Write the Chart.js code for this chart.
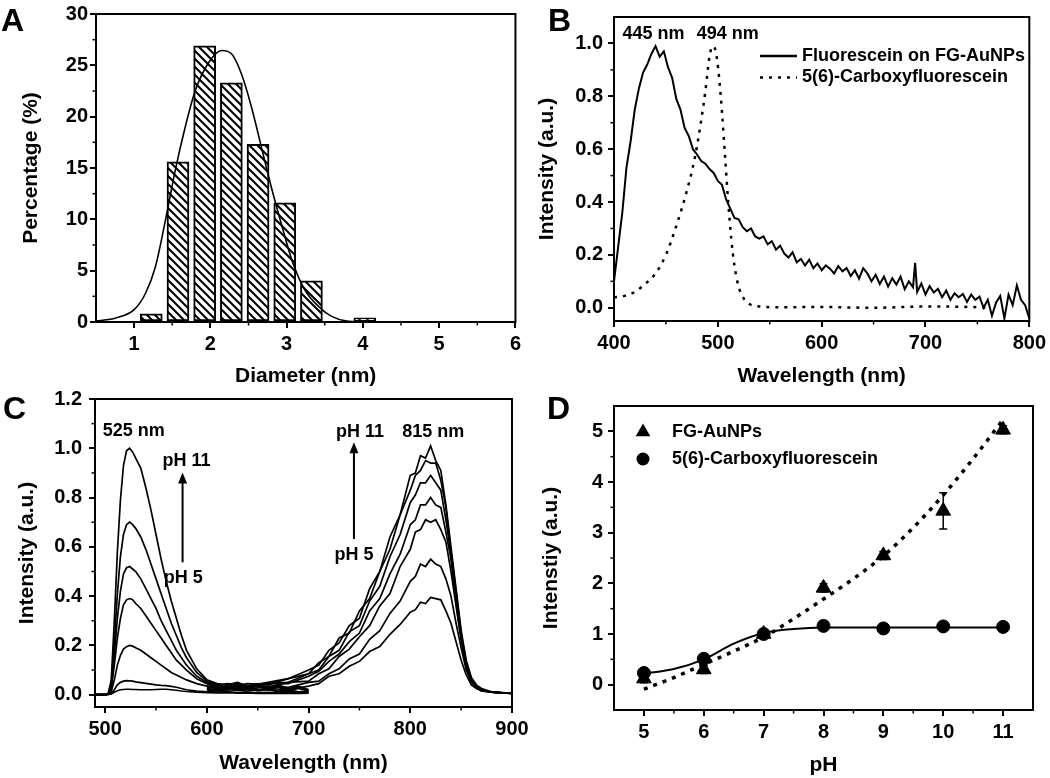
<!DOCTYPE html>
<html><head><meta charset="utf-8">
<script src="https://cdn.jsdelivr.net/npm/chart.js@4/dist/chart.umd.min.js"></script>
<style>
html,body{margin:0;padding:0;background:#fff;}
#wrap{position:relative;width:1050px;height:778px;overflow:hidden;background:#fff;}
canvas{position:absolute;}
.lbl{position:absolute;font:bold 32px "Liberation Sans",Arial,sans-serif;color:#000;line-height:1;}
</style></head><body>
<div id="wrap">
<canvas id="cA" width="525" height="389" style="left:0;top:0"></canvas>
<canvas id="cB" width="525" height="389" style="left:525px;top:0"></canvas>
<canvas id="cC" width="545" height="398" style="left:0;top:380px"></canvas>
<canvas id="cD" width="525" height="389" style="left:525px;top:389px"></canvas>
<div class="lbl" style="left:1px;top:4px">A</div>
<div class="lbl" style="left:548px;top:4px">B</div>
<div class="lbl" style="left:3px;top:392px">C</div>
<div class="lbl" style="left:547px;top:392px">D</div>
</div>
<script>
// ---------- DATA ----------
// Panel A: size histogram
const aBinCenters = [1.225,1.575,1.925,2.275,2.625,2.975,3.325,4.025];
const aPercent    = [0.8,15.6,26.9,23.3,17.3,11.6,4.0,0.4];
const aFitX = [0.5,0.76,1.0,1.15,1.28,1.41,1.54,1.67,1.8,1.98,2.15,2.28,2.41,2.54,2.67,2.8,2.94,3.07,3.24,3.42,3.59,3.81,4.0];
const aFitY = [0.1,0.39,1.2,2.8,5.4,9.9,14.8,19.0,22.5,25.3,26.45,26.1,24.1,20.9,17.0,13.1,9.3,6.0,3.1,1.5,0.55,0.06,0.0];
const aXTicks = [1,2,3,4,5,6], aXLabels = ['1','2','3','4','5','6'];
const aYTicks = [0,5,10,15,20,25,30], aYLabels = ['0','5','10','15','20','25','30'];

// Panel B: emission spectra
const bSolidX = [400,404,408,412,416,420,424,428,432,436,440,444,448,452,456,460,464,468,472,476,480,484,488,492,496,500,504,508,512,516,520,524,528,532,536,540,544,548,552,556,560,564,568,572,576,580,584,588,592,596,600,604,608,612,616,620,624,628,632,636,640,644,648,652,656,660,664,668,672,676,680,684,688,690,692,696,700,704,708,712,716,720,724,728,732,736,740,744,748,752,756,760,764,768,772,776,780,784,788,792,796,800];
const bSolidY = [0.10,0.23,0.36,0.53,0.63,0.75,0.83,0.89,0.92,0.96,0.99,0.95,0.97,0.91,0.87,0.79,0.75,0.68,0.65,0.60,0.58,0.555,0.545,0.525,0.51,0.48,0.465,0.41,0.375,0.34,0.335,0.305,0.29,0.30,0.27,0.262,0.27,0.24,0.252,0.22,0.235,0.205,0.19,0.21,0.172,0.185,0.16,0.182,0.15,0.168,0.142,0.16,0.148,0.13,0.158,0.138,0.15,0.12,0.142,0.11,0.15,0.13,0.10,0.125,0.09,0.118,0.08,0.112,0.088,0.118,0.07,0.10,0.078,0.17,0.06,0.092,0.05,0.082,0.058,0.072,0.04,0.065,0.03,0.055,0.04,0.052,0.022,0.05,0.03,0.042,0.0,0.03,-0.03,0.02,0.045,-0.04,0.05,0.01,0.085,0.03,0.01,-0.04];
const bDotX = [400,410,420,430,440,450,460,470,478,484,488,492,495,498,501,504,507,510,513,516,520,525,530,540,560,600,650,700,750,758];
const bDotY = [0.04,0.045,0.06,0.09,0.13,0.20,0.31,0.44,0.57,0.71,0.82,0.95,0.99,0.97,0.88,0.74,0.57,0.40,0.26,0.16,0.08,0.035,0.015,0.005,0.002,0.003,0.0,0.005,0.002,0.0];
const bNames = ['Fluorescein on FG-AuNPs','5(6)-Carboxyfluorescein'];
const bXTicks = [400,500,600,700,800], bXLabels = ['400','500','600','700','800'];
const bYTicks = [0,0.2,0.4,0.6,0.8,1.0], bYLabels = ['0.0','0.2','0.4','0.6','0.8','1.0'];

// Panel C: pH-dependent spectra (pH 11 -> pH 5)
const cLeftX = [490,500,503,506,509,512,515,518,521,524,527,530,535,540,545,550,555,560,565,570,575,580,590,600,610,620,630,640,650,660,670,680,690,700];
const cLeft = [
 [0,0,0.005,0.06,0.30,0.58,0.79,0.93,0.99,1.0,0.985,0.96,0.92,0.84,0.75,0.65,0.55,0.46,0.38,0.31,0.24,0.18,0.105,0.06,0.045,0.04,0.05,0.035,0.045,0.03,0.04,0.025,0.035,0.02],
 [0,0,0.004,0.045,0.21,0.41,0.56,0.65,0.69,0.70,0.69,0.675,0.64,0.59,0.53,0.47,0.41,0.35,0.29,0.24,0.19,0.15,0.09,0.055,0.04,0.03,0.045,0.03,0.04,0.025,0.035,0.02,0.03,0.02],
 [0,0,0.003,0.035,0.16,0.31,0.42,0.49,0.515,0.52,0.51,0.50,0.47,0.43,0.39,0.35,0.30,0.26,0.22,0.18,0.15,0.12,0.075,0.05,0.035,0.03,0.04,0.025,0.035,0.02,0.03,0.015,0.025,0.015],
 [0,0,0.002,0.025,0.12,0.23,0.31,0.365,0.385,0.39,0.385,0.37,0.35,0.32,0.29,0.26,0.23,0.20,0.17,0.14,0.12,0.10,0.065,0.045,0.03,0.035,0.025,0.03,0.02,0.025,0.015,0.02,0.012,0.015],
 [0,0,0.002,0.012,0.06,0.12,0.16,0.185,0.195,0.20,0.197,0.19,0.18,0.165,0.15,0.135,0.12,0.105,0.09,0.08,0.07,0.06,0.045,0.035,0.025,0.03,0.02,0.025,0.015,0.02,0.012,0.015,0.01,0.012],
 [0,0,0.001,0.005,0.02,0.04,0.05,0.055,0.057,0.056,0.055,0.052,0.049,0.046,0.043,0.04,0.038,0.037,0.034,0.03,0.025,0.02,0.015,0.012,0.01,0.012,0.008,0.01,0.007,0.009,0.006,0.008,0.006,0.007],
 [0,0,0.001,0.003,0.01,0.016,0.02,0.021,0.022,0.022,0.021,0.021,0.02,0.02,0.02,0.021,0.022,0.022,0.02,0.018,0.015,0.013,0.01,0.008,0.007,0.008,0.006,0.007,0.005,0.006,0.005,0.006,0.005,0.006]
];
const cRightX = [600,620,640,660,680,700,710,720,730,740,750,760,770,780,790,800,805,810,815,820,825,830,835,840,845,850,855,860,865,870,880,890,900];
const cRight = [
 [0.03,0.045,0.035,0.05,0.065,0.10,0.12,0.18,0.21,0.28,0.31,0.43,0.50,0.64,0.73,0.89,0.90,0.97,0.96,1.01,0.95,0.91,0.77,0.60,0.43,0.26,0.14,0.07,0.04,0.025,0.012,0.008,0.006],
 [0.035,0.03,0.045,0.04,0.065,0.085,0.13,0.155,0.23,0.25,0.34,0.39,0.50,0.59,0.73,0.83,0.89,0.91,0.95,0.94,0.94,0.87,0.76,0.58,0.42,0.25,0.13,0.065,0.035,0.02,0.01,0.008,0.005],
 [0.025,0.035,0.035,0.045,0.05,0.085,0.10,0.155,0.18,0.255,0.28,0.38,0.44,0.56,0.65,0.78,0.81,0.86,0.86,0.89,0.86,0.83,0.71,0.57,0.39,0.24,0.12,0.065,0.035,0.02,0.01,0.007,0.005],
 [0.02,0.03,0.03,0.045,0.045,0.075,0.095,0.135,0.165,0.215,0.25,0.34,0.39,0.49,0.57,0.69,0.71,0.77,0.77,0.80,0.77,0.76,0.66,0.55,0.37,0.23,0.115,0.06,0.03,0.02,0.01,0.007,0.005],
 [0.02,0.02,0.035,0.03,0.05,0.055,0.085,0.105,0.155,0.185,0.235,0.28,0.36,0.41,0.52,0.59,0.66,0.67,0.71,0.70,0.71,0.67,0.62,0.50,0.36,0.22,0.115,0.055,0.03,0.02,0.01,0.007,0.005],
 [0.015,0.025,0.02,0.035,0.03,0.05,0.055,0.085,0.105,0.145,0.165,0.225,0.26,0.33,0.38,0.46,0.48,0.53,0.52,0.55,0.53,0.52,0.47,0.40,0.29,0.19,0.10,0.05,0.03,0.015,0.01,0.007,0.005],
 [0.01,0.02,0.015,0.025,0.02,0.035,0.045,0.075,0.085,0.115,0.135,0.175,0.195,0.245,0.285,0.335,0.345,0.375,0.37,0.395,0.39,0.385,0.34,0.29,0.215,0.14,0.08,0.04,0.025,0.015,0.01,0.007,0.005]
];
const cXTicks = [500,600,700,800,900], cXLabels = ['500','600','700','800','900'];
const cYTicks = [0,0.2,0.4,0.6,0.8,1.0,1.2], cYLabels = ['0.0','0.2','0.4','0.6','0.8','1.0','1.2'];

// Panel D: intensity vs pH
const dPH    = [5,6,7,8,9,10,11];
const dFG    = [0.12,0.30,1.00,1.91,2.55,3.43,5.03];
const dFGErr = [0.08,0.08,0.05,0.08,0.08,0.36,0.08];
const dCF    = [0.23,0.51,1.00,1.16,1.11,1.15,1.14];
const dFitX  = [5,5.5,6,6.5,7,7.5,8,8.5,9,9.5,10,10.5,11];
const dFitFG = [-0.09,0.14,0.40,0.66,0.94,1.30,1.69,2.09,2.54,3.10,3.74,4.46,5.23];
const dFitCF = [0.22,0.31,0.50,0.81,1.02,1.10,1.13,1.13,1.13,1.13,1.13,1.13,1.13];
const dNames = ['FG-AuNPs','5(6)-Carboxyfluorescein'];
const dXTicks = [5,6,7,8,9,10,11], dXLabels = ['5','6','7','8','9','10','11'];
const dYTicks = [0,1,2,3,4,5], dYLabels = ['0','1','2','3','4','5'];

// ---------- HELPERS ----------
const F = '"Liberation Sans", Arial, sans-serif';
Chart.defaults.font.family = F;
Chart.defaults.font.weight = 'bold';
Chart.defaults.color = '#000';
const pts = (xs, ys) => xs.map((v, i) => ({x: v, y: ys[i]}));

function axis(o) {
  return {
    type: 'linear', position: o.pos, min: o.min, max: o.max, offset: false,
    afterBuildTicks(s) { s.ticks = o.vals.map(v => ({value: v})); },
    afterFit(s) { if (o.pos === 'left') s.width = o.size; else s.height = o.size; },
    ticks: { font: {size: 20, weight: 'bold', family: F}, color: '#000', padding: o.tickPad,
      maxRotation: 0, autoSkip: false,
      callback: (v) => { const i = o.vals.indexOf(v); return i >= 0 ? o.labels[i] : ''; } },
    grid: { display: true, drawOnChartArea: false, drawTicks: true, tickLength: 6, color: '#000', lineWidth: 2, offset: false },
    border: { display: false },
    title: { display: true, text: o.title, font: {size: 21, weight: 'bold', family: F}, color: '#000', padding: o.titlePad }
  };
}

const deco = {
  id: 'deco',
  beforeDatasetsDraw(chart, args, o) {
    if (!o.err) return;
    const {ctx, scales: {x, y}} = chart;
    ctx.save(); ctx.strokeStyle = '#000'; ctx.lineWidth = 1.5;
    o.err.xs.forEach((xv, i) => {
      const px = x.getPixelForValue(xv);
      const p1 = y.getPixelForValue(o.err.ys[i] + o.err.es[i]);
      const p2 = y.getPixelForValue(o.err.ys[i] - o.err.es[i]);
      ctx.beginPath(); ctx.moveTo(px, p1); ctx.lineTo(px, p2);
      ctx.moveTo(px - 4, p1); ctx.lineTo(px + 4, p1);
      ctx.moveTo(px - 4, p2); ctx.lineTo(px + 4, p2); ctx.stroke();
    });
    ctx.restore();
  },
  afterDraw(chart, args, o) {
    const {ctx, chartArea: a, scales: {x, y}} = chart;
    ctx.save();
    ctx.strokeStyle = '#000'; ctx.fillStyle = '#000';
    ctx.lineWidth = 2;
    ctx.strokeRect(a.left, a.top, a.right - a.left, a.bottom - a.top);
    ctx.lineWidth = 1.5;
    (o.minorX || []).forEach(v => { const p = x.getPixelForValue(v); ctx.beginPath(); ctx.moveTo(p, a.bottom); ctx.lineTo(p, a.bottom + 3.5); ctx.stroke(); });
    (o.minorY || []).forEach(v => { const p = y.getPixelForValue(v); ctx.beginPath(); ctx.moveTo(a.left, p); ctx.lineTo(a.left - 3.5, p); ctx.stroke(); });
    ctx.font = 'bold 18px ' + F; ctx.textBaseline = 'middle'; ctx.textAlign = 'center';
    (o.texts || []).forEach(t => ctx.fillText(t.t, x.getPixelForValue(t.x), y.getPixelForValue(t.y)));
    (o.arrows || []).forEach(ar => {
      const px = x.getPixelForValue(ar.x), p0 = y.getPixelForValue(ar.y0), p1 = y.getPixelForValue(ar.y1);
      ctx.lineWidth = 2; ctx.beginPath(); ctx.moveTo(px, p0); ctx.lineTo(px, p1 + 8); ctx.stroke();
      ctx.beginPath(); ctx.moveTo(px, p1); ctx.lineTo(px - 4.5, p1 + 11); ctx.lineTo(px + 4.5, p1 + 11); ctx.closePath(); ctx.fill();
    });
    if (o.legend) {
      const L = o.legend; ctx.textAlign = 'left';
      L.rows.forEach((r, i) => {
        const yy = a.top + L.dy + i * L.gap;
        if (r.sym === 'line' || r.sym === 'dash') {
          ctx.beginPath(); ctx.setLineDash(r.sym === 'dash' ? [3, 6] : []); ctx.lineWidth = 2.5;
          ctx.moveTo(a.left + L.sx0, yy); ctx.lineTo(a.left + L.sx1, yy); ctx.stroke(); ctx.setLineDash([]);
        } else if (r.sym === 'triangle') {
          const cx = a.left + L.sx0, rr = 8.5;
          ctx.beginPath(); ctx.moveTo(cx, yy - rr); ctx.lineTo(cx + rr * 0.866, yy + rr * 0.5); ctx.lineTo(cx - rr * 0.866, yy + rr * 0.5); ctx.closePath(); ctx.fill();
        } else if (r.sym === 'circle') {
          ctx.beginPath(); ctx.arc(a.left + L.sx0, yy, 6.5, 0, Math.PI * 2); ctx.fill();
        }
        ctx.fillText(r.text, a.left + L.tx, yy);
      });
    }
    ctx.restore();
  }
};

function hatch() {
  const c = document.createElement('canvas'); c.width = 8; c.height = 8;
  const g = c.getContext('2d'); g.fillStyle = '#fff'; g.fillRect(0, 0, 8, 8);
  g.strokeStyle = '#000'; g.lineWidth = 2; g.beginPath();
  g.moveTo(-2, -2); g.lineTo(10, 10); g.moveTo(-2, 6); g.lineTo(2, 10); g.moveTo(6, -2); g.lineTo(10, 2); g.stroke();
  return g.createPattern(c, 'repeat');
}

const common = { responsive: false, animation: false, events: [],
  plugins: { legend: {display: false}, tooltip: {enabled: false} } };

// ---------- PANEL A ----------
new Chart(document.getElementById('cA'), {
  type: 'bar',
  data: { datasets: [
    { type: 'line', data: pts(aFitX, aFitY), borderColor: '#000', borderWidth: 1.6, pointRadius: 0, cubicInterpolationMode: 'monotone', fill: false },
    { type: 'bar', data: pts(aBinCenters, aPercent), backgroundColor: hatch(), borderColor: '#000', borderWidth: 2, borderSkipped: false, barThickness: 22 }
  ]},
  options: { ...common,
    layout: { padding: {left: 0, top: 13, right: 8, bottom: 0} },
    scales: {
      x: axis({pos: 'bottom', min: 0.5, max: 6, vals: aXTicks, labels: aXLabels, size: 67, tickPad: 4, title: 'Diameter (nm)', titlePad: {top: 0, bottom: 0}}),
      y: axis({pos: 'left', min: 0, max: 30, vals: aYTicks, labels: aYLabels, size: 96, tickPad: 2, title: 'Percentage (%)', titlePad: {top: 19, bottom: 0}})
    },
    plugins: { ...common.plugins, deco: { minorX: [1.5,2.5,3.5,4.5,5.5], minorY: [2.5,7.5,12.5,17.5,22.5,27.5] } }
  },
  plugins: [deco]
});

// ---------- PANEL B ----------
new Chart(document.getElementById('cB'), {
  type: 'line',
  data: { datasets: [
    { data: pts(bSolidX, bSolidY), borderColor: '#000', borderWidth: 2, pointRadius: 0, tension: 0 },
    { data: pts(bDotX, bDotY), borderColor: '#000', borderWidth: 2.5, borderDash: [3, 6], pointRadius: 0, cubicInterpolationMode: 'monotone' }
  ]},
  options: { ...common,
    layout: { padding: {left: 0, top: 13, right: 20, bottom: 0} },
    scales: {
      x: axis({pos: 'bottom', min: 400, max: 800, vals: bXTicks, labels: bXLabels, size: 68, tickPad: 4, title: 'Wavelength (nm)', titlePad: {top: 0, bottom: 0}}),
      y: axis({pos: 'left', min: -0.05, max: 1.1, vals: bYTicks, labels: bYLabels, size: 89, tickPad: 5, title: 'Intensity (a.u.)', titlePad: {top: 10, bottom: 0}})
    },
    plugins: { ...common.plugins, deco: {
      minorX: [450,550,650,750], minorY: [0.1,0.3,0.5,0.7,0.9],
      texts: [{t: '445 nm', x: 438, y: 1.037}, {t: '494 nm', x: 509.6, y: 1.037}],
      legend: { dy: 39, gap: 21.5, sx0: 146, sx1: 183, tx: 188, rows: [{sym: 'line', text: bNames[0]}, {sym: 'dash', text: bNames[1]}] }
    } }
  },
  plugins: [deco]
});

// ---------- PANEL C ----------
const cSets = [];
cLeft.forEach(ys => cSets.push({ data: pts(cLeftX, ys), borderColor: '#000', borderWidth: 1.7, pointRadius: 0, tension: 0 }));
cRight.forEach(ys => cSets.push({ data: pts(cRightX, ys), borderColor: '#000', borderWidth: 1.7, pointRadius: 0, tension: 0 }));
new Chart(document.getElementById('cC'), {
  type: 'line',
  data: { datasets: cSets },
  options: { ...common,
    layout: { padding: {left: 0, top: 19, right: 33, bottom: 0} },
    scales: {
      x: axis({pos: 'bottom', min: 490, max: 900, vals: cXTicks, labels: cXLabels, size: 71, tickPad: 4, title: 'Wavelength (nm)', titlePad: {top: 0, bottom: 2}}),
      y: axis({pos: 'left', min: -0.05, max: 1.2, vals: cYTicks, labels: cYLabels, size: 95, tickPad: 7, title: 'Intensity (a.u.)', titlePad: {top: 15, bottom: 0}})
    },
    plugins: { ...common.plugins, deco: {
      minorX: [550,650,750,850], minorY: [0.1,0.3,0.5,0.7,0.9,1.1],
      texts: [{t: '525 nm', x: 528, y: 1.07}, {t: 'pH 11', x: 580, y: 0.947}, {t: 'pH 5', x: 576.7, y: 0.473},
              {t: 'pH 11', x: 750.5, y: 1.065}, {t: '815 nm', x: 822.6, y: 1.065}, {t: 'pH 5', x: 744.6, y: 0.568}],
      arrows: [{x: 576.1, y0: 0.537, y1: 0.902}, {x: 744.6, y0: 0.632, y1: 1.024}]
    } }
  },
  plugins: [deco]
});

// ---------- PANEL D ----------
new Chart(document.getElementById('cD'), {
  type: 'line',
  data: { datasets: [
    { data: pts(dPH, dFG), showLine: false, pointStyle: 'triangle', pointRadius: 8.5, pointBackgroundColor: '#000', pointBorderColor: '#000', pointBorderWidth: 1 },
    { data: pts(dPH, dCF), showLine: false, pointStyle: 'circle', pointRadius: 6.5, pointBackgroundColor: '#000', pointBorderColor: '#000', pointBorderWidth: 1 },
    { data: pts(dFitX, dFitFG), borderColor: '#000', borderWidth: 3.5, borderDash: [4, 6], pointRadius: 0, cubicInterpolationMode: 'monotone' },
    { data: pts(dFitX, dFitCF), borderColor: '#000', borderWidth: 2, pointRadius: 0, cubicInterpolationMode: 'monotone' }
  ]},
  options: { ...common,
    layout: { padding: {left: 0, top: 10, right: 17, bottom: 0} },
    scales: {
      x: axis({pos: 'bottom', min: 4.5, max: 11.5, vals: dXTicks, labels: dXLabels, size: 68, tickPad: 4, title: 'pH', titlePad: {top: 0, bottom: 0}}),
      y: axis({pos: 'left', min: -0.5, max: 5.5, vals: dYTicks, labels: dYLabels, size: 89, tickPad: 5, title: 'Intenstiy (a.u.)', titlePad: {top: 14, bottom: 0}})
    },
    plugins: { ...common.plugins, deco: {
      minorX: [5.5,6.5,7.5,8.5,9.5,10.5], minorY: [0.5,1.5,2.5,3.5,4.5],
      err: { xs: dPH, ys: dFG, es: dFGErr },
      legend: { dy: 26, gap: 27, sx0: 29, tx: 58, rows: [{sym: 'triangle', text: dNames[0]}, {sym: 'circle', text: dNames[1]}] }
    } }
  },
  plugins: [deco]
});
</script>
</body></html>
